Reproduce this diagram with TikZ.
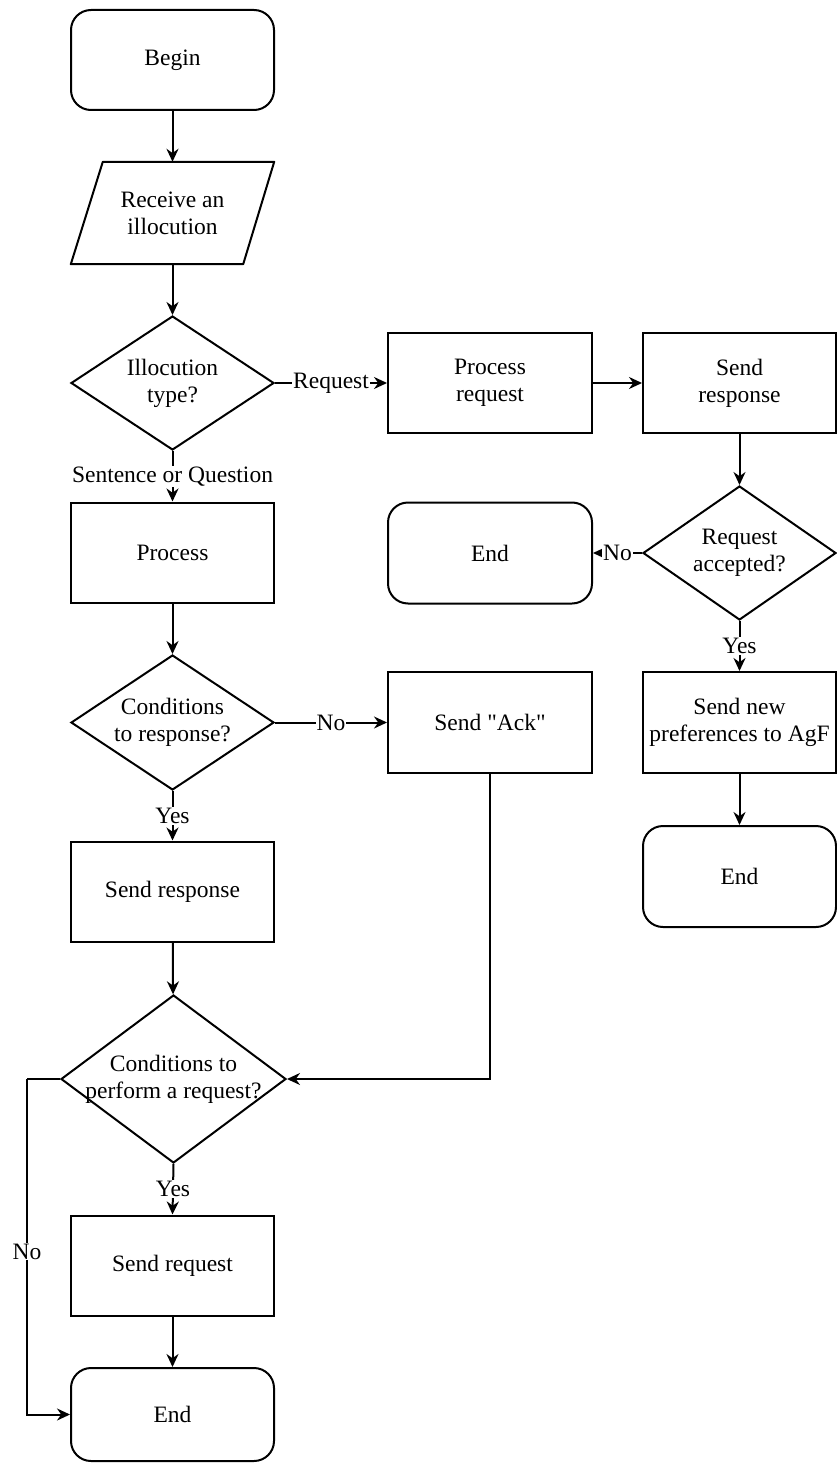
\documentclass[tikz,border=0pt]{standalone}
\usepackage{fontspec}
\setmainfont{Liberation Serif}
\newfontfamily\flowfont{Liberation Serif}
\usetikzlibrary{shapes.geometric,arrows.meta,calc}
\begin{document}
\begin{tikzpicture}[x=1pt,y=-1pt,
  every node/.style={font=\flowfont\fontsize{23.5}{27}\selectfont},
  base/.style={draw, line width=2pt, inner sep=0pt, align=center},
  term/.style={base, rectangle, rounded corners=20pt, minimum width=203pt, minimum height=100pt},
  actbox/.style={base, rectangle, minimum width=203pt, minimum height=100pt},
  dec/.style={base, diamond, minimum width=203pt, minimum height=134pt},
  lbl/.style={fill=white, inner sep=1pt},
  flow/.style={line width=2pt, -{Stealth[length=13pt,width=12pt]}},
]
\useasboundingbox (0,0) rectangle (837,1463);

% main column
\node[term] (begin) at (172.5,60) {Begin};
\node[inner sep=0pt, align=center, minimum width=203pt, minimum height=102pt] (recv) at (172.5,213) {Receive an\\illocution};
\draw[line width=2pt, line join=round] (recv.south west) -- ($(recv.north west)+(32,0)$)
  -- (recv.north east) -- ($(recv.south east)+(-31,0)$) -- cycle;
\node[dec, label={[align=center]center:{Illocution\\type?}}] (ill) at (172.5,383) {};
\node[actbox] (proc) at (172.5,552.5) {Process};
\node[dec, minimum height=135pt, label={[align=center]center:{Conditions\\to response?}}] (cresp) at (172.5,722.5) {};
\node[actbox] (sresp) at (172.5,891.5) {Send response};
\node[dec, minimum width=225pt, minimum height=168pt, label={[align=center]center:{Conditions to\\perform a request?}}] (creq) at (173.5,1079) {};
\node[actbox] (sreq) at (172.5,1265.5) {Send request};
\node[term, minimum height=93pt] (endc) at (172.5,1414.5) {End};

% middle column
\node[actbox, minimum width=204pt] (preq) at (490,383) {Process\\request};
\node[term, minimum width=204pt, minimum height=101pt] (endm) at (490,553) {End};
\node[actbox, minimum width=204pt, minimum height=101pt] (ack) at (490,722.5) {Send {\char34}Ack{\char34}};

% right column
\node[actbox, minimum width=193pt] (sresr) at (739.5,383) {Send\\response};
\node[dec, minimum width=193pt, label={[align=center]center:{Request\\accepted?}}] (racc) at (739.5,553) {};
\node[actbox, minimum width=193pt, minimum height=101pt] (snp) at (739.5,722.5) {Send new\\preferences to AgF};
\node[term, minimum width=193pt, minimum height=101pt] (endr) at (739.5,876.5) {End};

% connectors
\draw[flow] (begin) -- (recv);
\draw[flow] (recv) -- (ill);
\draw[flow] (ill.east) -- node[lbl] {Request} (preq.west);
\draw[flow] (ill.south) -- node[lbl] {Sentence or Question} (proc.north);
\draw[flow] (proc) -- (cresp);
\draw[flow] (cresp.east) -- node[lbl] {No} (ack.west);
\draw[flow] (cresp.south) -- node[lbl] {Yes} (sresp.north);
\draw[flow] (sresp) -- (creq);
\draw[flow] (ack.south) |- (creq.east);
\draw[flow] (creq.south) -- node[lbl] {Yes} (sreq.north);
\draw[flow] (sreq) -- (endc);
\coordinate (nobend) at (27,1079);
\draw[line width=2pt] (creq.west) -- (nobend);
\draw[flow] (nobend) |- node[lbl, pos=0.257] {No} (endc.west);

\draw[flow] (preq) -- (sresr);
\draw[flow] (sresr) -- (racc);
\draw[flow] (racc.west) -- node[lbl] {No} (endm.east);
\draw[flow] (racc.south) -- node[lbl] {Yes} (snp.north);
\draw[flow] (snp) -- (endr);
\end{tikzpicture}
\end{document}
